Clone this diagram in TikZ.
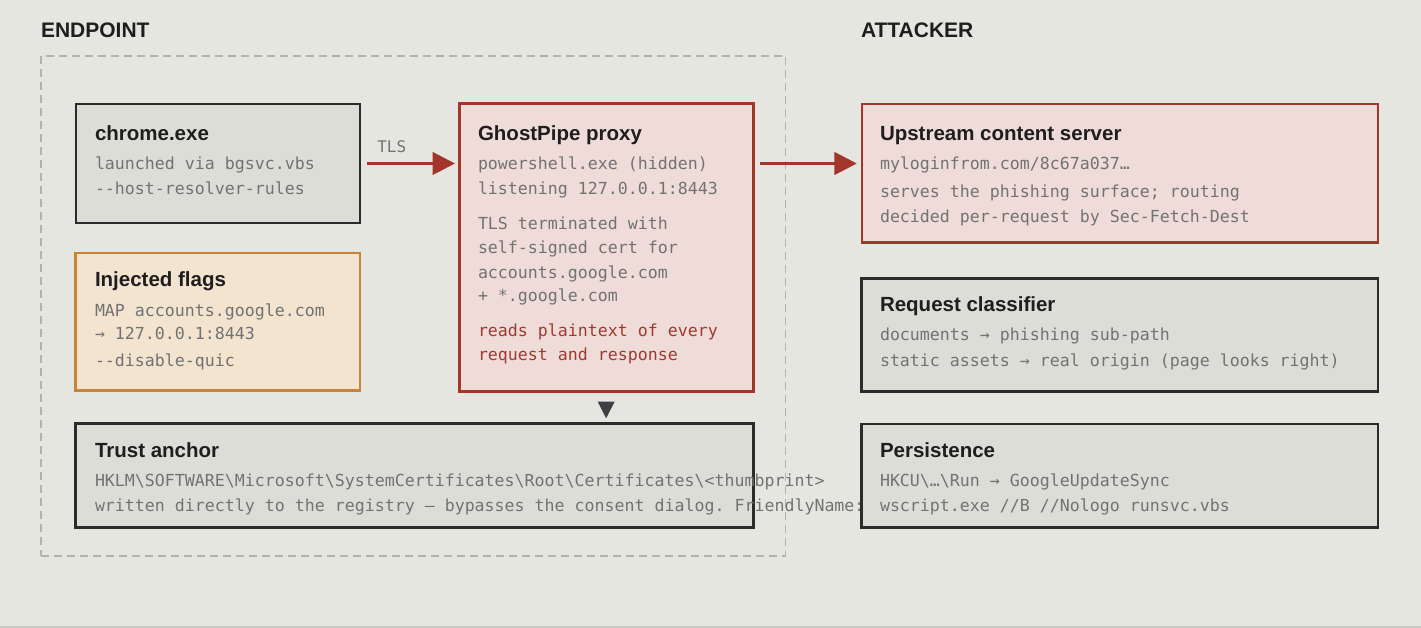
\documentclass[tikz,border=0pt]{standalone}
\usepackage{fontspec}
\setsansfont{Liberation Sans}
\setmonofont{DejaVu Sans Mono}
\usetikzlibrary{arrows.meta,fit}
\definecolor{cbg}{HTML}{E6E6E1}
\definecolor{cgfill}{HTML}{DDDDD8}
\definecolor{cdark}{HTML}{2B2B2B}
\definecolor{cred}{HTML}{A3352B}
\definecolor{cpink}{HTML}{EFDCD8}
\definecolor{corange}{HTML}{C6843A}
\definecolor{cofill}{HTML}{F3E4CF}
\definecolor{ctitle}{HTML}{1E1E1E}
\definecolor{cmono}{HTML}{727272}
\definecolor{credtxt}{HTML}{9E3A2F}
\definecolor{cdash}{HTML}{B3B3AE}
\definecolor{cdown}{HTML}{3C3F43}
\definecolor{cbottom}{HTML}{C9C9C4}
\begin{document}
\begin{tikzpicture}[x=1pt,y=-1pt,
  box/.style={draw, rectangle, inner sep=0pt, outer sep=0pt},
  dbox/.style={box, draw=cdark, fill=cgfill, line width=2.6pt},
  rbox/.style={box, draw=cred, fill=cpink, line width=3pt},
  rboxthin/.style={box, draw=cred, fill=cpink, line width=2.2pt},
  obox/.style={box, draw=corange, fill=cofill, line width=2.5pt},
  ttl/.style={anchor=base west, inner sep=0pt, outer sep=0pt, text=ctitle, font=\sffamily\bfseries\fontsize{20.5}{24}\selectfont},
  hdr/.style={ttl, font=\sffamily\bfseries\fontsize{21}{24}\selectfont},
  mono/.style={anchor=base west, inner sep=0pt, outer sep=0pt, text=cmono, font=\ttfamily\fontsize{16.6}{20}\selectfont},
  redmono/.style={mono, text=credtxt},
  redarrow/.style={draw=cred, line width=3pt, -{Triangle[length=22.5pt,width=22.5pt]}},
  downarrow/.style={draw=cdown, line width=1pt, -{Triangle[length=16.6pt,width=16.6pt]}}
]
\useasboundingbox (0,0) rectangle (1421,628);
\fill[cbg] (0,0) rectangle (1421,628);
\fill[cbottom] (0,626) rectangle (1421,628);

% headers
\node[hdr] (h-endpoint) at (41,37.3) {ENDPOINT};
\node[hdr] (h-attacker) at (861,37.3) {ATTACKER};

% endpoint group
\node[box, draw=cdash, line width=1.5pt, dash pattern=on 8pt off 5pt, fit={(41,56)(785.3,556)}] (endpoint) {};

% chrome.exe
\node[dbox, fit={(76,104)(360,223)}] (chrome) {};
\node[ttl] (chrome-t) at (95,140.7) {chrome.exe};
\node[mono] (chrome-1) at (95,170) {launched via bgsvc.vbs};
\node[mono] (chrome-2) at (95,195) {--host-resolver-rules};

% injected flags
\node[obox, fit={(75.5,253)(360,390.5)}] (flags) {};
\node[ttl] (flags-t) at (95,286.7) {Injected flags};
\node[mono] (flags-1) at (95,316.7) {MAP accounts.google.com};
\node[mono] (flags-2) at (95,339.3) {→ 127.0.0.1:8443};
\node[mono] (flags-3) at (95,366) {--disable-quic};

% ghostpipe
\node[rbox, fit={(459,104)(753.3,391.3)}] (ghost) {};
\node[ttl] (ghost-t) at (478,140.7) {GhostPipe proxy};
\node[mono] (ghost-1) at (478,170) {powershell.exe (hidden)};
\node[mono] (ghost-2) at (478,195) {listening 127.0.0.1:8443};
\node[mono] (ghost-3) at (478,230) {TLS terminated with};
\node[mono] (ghost-4) at (478,254) {self-signed cert for};
\node[mono] (ghost-5) at (478,278.3) {accounts.google.com};
\node[mono] (ghost-6) at (478,301.7) {+ *.google.com};
\node[redmono] (ghost-7) at (478,336.7) {reads plaintext of every};
\node[redmono] (ghost-8) at (478,360) {request and response};

% trust anchor
\node[dbox, fit={(75.7,423.7)(753.5,527.5)}] (trust) {};
\node[ttl] (trust-t) at (95,457.3) {Trust anchor};
\node[mono] (trust-1) at (95,486.5) {HKLM\textbackslash SOFTWARE\textbackslash Microsoft\textbackslash SystemCertificates\textbackslash Root\textbackslash Certificates\textbackslash <thumbprint>};
\node[mono] (trust-2) at (95,511.5) {written directly to the registry — bypasses the consent dialog. FriendlyName:};

% attacker column
\node[rboxthin, fit={(861.8,103.7)(1377.7,242.5)}] (upstream) {};
\node[ttl] (up-t) at (880,140.7) {Upstream content server};
\node[mono] (up-1) at (880,170) {myloginfrom.com/8c67a037…};
\node[mono] (up-2) at (880,197.3) {serves the phishing surface; routing};
\node[mono] (up-3) at (880,222.5) {decided per-request by Sec-Fetch-Dest};

\node[dbox, fit={(861.4,278.3)(1378,391.7)}] (classifier) {};
\node[ttl] (cl-t) at (880,311.7) {Request classifier};
\node[mono] (cl-1) at (880,340.7) {documents → phishing sub-path};
\node[mono] (cl-2) at (880,366) {static assets → real origin (page looks right)};

\node[dbox, fit={(861.4,423.8)(1378,527.7)}] (persist) {};
\node[ttl] (pe-t) at (880,457.3) {Persistence};
\node[mono] (pe-1) at (880,486.7) {HKCU\textbackslash …\textbackslash Run → GoogleUpdateSync};
\node[mono] (pe-2) at (880,511.7) {wscript.exe //B //Nologo runsvc.vbs};

% connectors
\draw[redarrow, shorten <=6.7pt, shorten >=4pt] (chrome.east) -- (ghost.west |- chrome.east)
  node[pos=0.16, above=11pt, anchor=base west, inner sep=0pt, text=cmono, font=\ttfamily\fontsize{16}{20}\selectfont] (tls) {TLS};
\draw[redarrow, shorten <=6.7pt, shorten >=5pt] (ghost.east |- chrome.east) -- (upstream.west |- chrome.east);
\draw[downarrow, shorten <=10.4pt, shorten >=5.4pt] (ghost.south) -- (trust.north -| ghost.south);
\end{tikzpicture}
\end{document}
